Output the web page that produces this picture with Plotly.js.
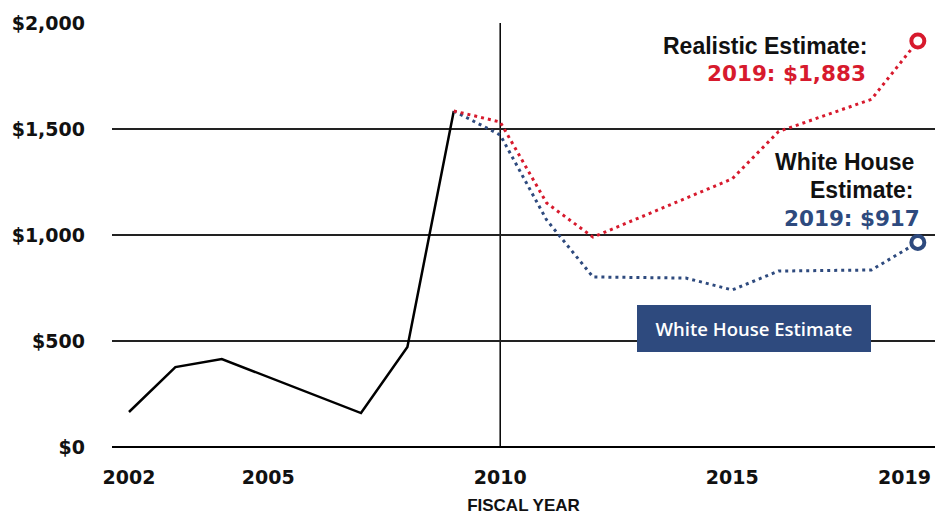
<!DOCTYPE html>
<html>
<head>
<meta charset="utf-8">
<script src="https://cdn.plot.ly/plotly-3.0.1.min.js"></script>
<style>html,body{margin:0;padding:0;background:#fff;}#chart{width:935px;height:519px;}</style>
</head>
<body>
<div id="chart"></div>
<script>
// Actual (black solid)
const actualYears = [2002, 2003, 2004, 2007, 2008, 2009];
const actualValues = [165, 377, 415, 160, 472, 1585];
// Realistic estimate (red dotted)
const realisticYears = [2009, 2010, 2011, 2012, 2015, 2016, 2018, 2019];
const realisticValues = [1585, 1533, 1151, 990, 1265, 1488, 1640, 1915];
// White House estimate (blue dotted)
const whYears = [2009, 2010, 2011, 2012, 2014, 2015, 2016, 2018, 2019];
const whValues = [1585, 1472, 1071, 802, 797, 741, 830, 835, 965];
// Axis ticks
const xTickYears = [2002, 2005, 2010, 2015, 2019];
const yTickValues = [0, 500, 1000, 1500, 2000];
const yTickLabels = ['$0', '$500', '$1,000', '$1,500', '$2,000'];
const dividerYear = 2010;

const RED = '#d71a2d';
const NAVY = '#2e4a7e';
const FONT = 'Liberation Sans, Arial, sans-serif';
const WIDE = 'DejaVu Sans, Verdana, sans-serif';

const last = a => a[a.length - 1];
// the last year label sits at the page edge, so it is drawn nudged inward
const axisYears = xTickYears.slice(0, -1);
const edgeYear = last(xTickYears);

const traces = [
  {x: actualYears, y: actualValues, mode: 'lines', line: {color: '#000', width: 2.5}, hoverinfo: 'skip'},
  {x: whYears, y: whValues, mode: 'lines', line: {color: NAVY, width: 3, dash: '3px,4px'}, hoverinfo: 'skip'},
  {x: realisticYears, y: realisticValues, mode: 'lines', line: {color: RED, width: 3, dash: '3px,4px'}, hoverinfo: 'skip'},
  {x: [last(realisticYears)], y: [last(realisticValues)], mode: 'markers',
   marker: {symbol: 'circle', size: 13, color: '#fff', line: {color: RED, width: 4}}, hoverinfo: 'skip'},
  {x: [last(whYears)], y: [last(whValues)], mode: 'markers',
   marker: {symbol: 'circle', size: 13, color: '#fff', line: {color: NAVY, width: 4}}, hoverinfo: 'skip'}
];

const tickFont = {family: WIDE, size: 19, color: '#111', weight: 'bold'};

const layout = {
  width: 935, height: 519,
  margin: {l: 112, r: 0, t: 23, b: 72},
  paper_bgcolor: '#fff', plot_bgcolor: '#fff',
  showlegend: false,
  font: {family: FONT, color: '#111'},
  xaxis: {
    range: [2001.634, 2019.37],
    tickvals: axisYears,
    ticktext: axisYears.map(String),
    ticks: '', showgrid: false, zeroline: false, showline: false,
    tickfont: tickFont,
    ticklabelstandoff: 17,
    title: {text: 'FISCAL YEAR', font: {family: FONT, size: 17, color: '#111', weight: 'bold'}, standoff: 12}
  },
  yaxis: {
    range: [0, 2000],
    tickvals: yTickValues,
    ticktext: yTickLabels,
    ticks: '', showline: false,
    showgrid: true, gridcolor: '#222', gridwidth: 1.5,
    zeroline: true, zerolinecolor: '#000', zerolinewidth: 2.5,
    tickfont: tickFont,
    ticklabelstandoff: 26
  },
  shapes: [
    {type: 'line', xref: 'x', yref: 'paper', x0: dividerYear, x1: dividerYear, y0: 0, y1: 1,
     line: {color: '#000', width: 1.5}, layer: 'below'}
  ],
  annotations: [
    {xref: 'x', yref: 'paper', x: edgeYear, y: 0, xanchor: 'center', yanchor: 'top', xshift: -13, yshift: -17,
     showarrow: false, text: String(edgeYear), font: tickFont},
    {xref: 'paper', yref: 'paper', x: 0.921, y: 0.946, xanchor: 'right', yanchor: 'middle', showarrow: false,
     text: 'Realistic Estimate:', font: {family: FONT, size: 23, color: '#111', weight: 'bold'}},
    {xref: 'paper', yref: 'paper', x: 0.9186, y: 0.880, xanchor: 'right', yanchor: 'middle', showarrow: false,
     text: '2019: $1,883', font: {family: WIDE, size: 21.5, color: RED, weight: 'bold'}},
    {xref: 'paper', yref: 'paper', x: 0.977, y: 0.672, xanchor: 'right', yanchor: 'middle', showarrow: false,
     text: 'White House', font: {family: FONT, size: 23, color: '#111', weight: 'bold'}},
    {xref: 'paper', yref: 'paper', x: 0.977, y: 0.606, xanchor: 'right', yanchor: 'middle', showarrow: false,
     text: 'Estimate:', font: {family: FONT, size: 23, color: '#111', weight: 'bold'}},
    {xref: 'paper', yref: 'paper', x: 0.984, y: 0.540, xanchor: 'right', yanchor: 'middle', showarrow: false,
     text: '2019: $917', font: {family: WIDE, size: 21.5, color: NAVY, weight: 'bold'}},
    {xref: 'paper', yref: 'paper', x: 0.780, y: 0.2795, xanchor: 'center', yanchor: 'middle', showarrow: false,
     text: 'White House Estimate', font: {family: 'Open Sans, sans-serif', size: 18.5, color: '#fff', weight: 600},
     bgcolor: NAVY, borderpad: 4, borderwidth: 0, width: 226, height: 39}
  ]
};

Plotly.newPlot('chart', traces, layout, {staticPlot: true, displayModeBar: false});
</script>
</body>
</html>
